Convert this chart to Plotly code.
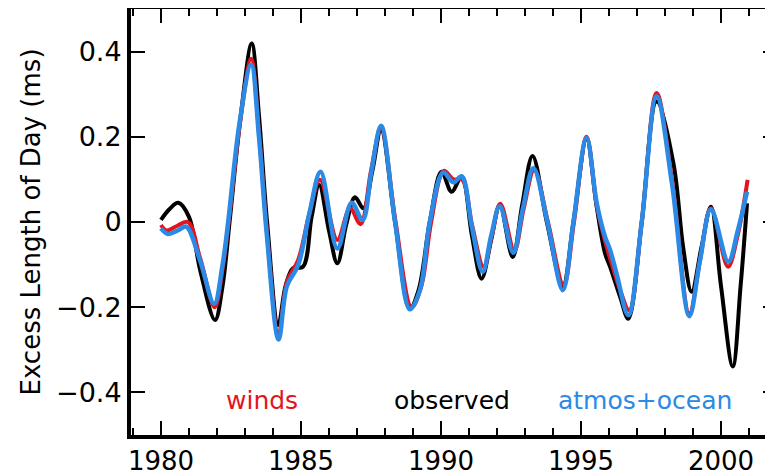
import plotly.graph_objects as go

# ---- data ----
obs_year = [1980.00, 1980.30, 1980.62, 1981.00, 1981.40, 1981.93, 1982.20, 1982.45, 1982.85,
            1983.24, 1983.50, 1983.79, 1984.19, 1984.45, 1984.72, 1985.07, 1985.38, 1985.65,
            1986.00, 1986.30, 1986.62, 1986.93, 1987.23, 1987.55, 1987.86, 1988.36, 1988.89,
            1989.20, 1989.60, 1990.02, 1990.38, 1990.74, 1991.10, 1991.45, 1991.80, 1992.10,
            1992.56, 1992.90, 1993.27, 1993.78, 1994.35, 1994.73, 1995.20, 1995.56, 1995.86,
            1996.04, 1996.40, 1996.69, 1997.17, 1997.70, 1998.30, 1998.65, 1998.95, 1999.30,
            1999.64, 2000.00, 2000.42, 2000.70, 2000.93]
obs_val = [0.005, 0.030, 0.045, 0.012, -0.113, -0.230, -0.150, 0.000, 0.250,
           0.419, 0.250, 0.000, -0.242, -0.150, -0.108, -0.105, 0.012, 0.087,
           -0.020, -0.097, -0.005, 0.058, 0.032, 0.120, 0.216, 0.000, -0.203,
           -0.160, 0.000, 0.118, 0.071, 0.107, -0.030, -0.133, -0.040, 0.040,
           -0.082, 0.040, 0.155, 0.000, -0.150, 0.000, 0.195, 0.036, -0.074,
           -0.105, -0.176, -0.227, 0.000, 0.283, 0.138, -0.060, -0.164, -0.060,
           0.036, -0.150, -0.339, -0.150, 0.044]

winds_year = [1980.00, 1980.20, 1980.55, 1980.96, 1981.40, 1981.92, 1982.20, 1982.42, 1982.82,
              1983.22, 1983.50, 1983.78, 1984.20, 1984.50, 1984.90, 1985.30, 1985.68,
              1986.30, 1986.75, 1987.13, 1987.50, 1987.86, 1988.38, 1988.95, 1989.30,
              1989.65, 1990.10, 1990.45, 1990.75, 1991.12, 1991.52, 1991.82, 1992.12,
              1992.62, 1992.95, 1993.33, 1993.82, 1994.38, 1994.75, 1995.20, 1995.56,
              1995.88, 1996.06, 1996.40, 1996.72, 1997.17, 1997.70, 1998.25, 1998.87,
              1999.25, 1999.64, 2000.25, 2000.60, 2000.95]
winds_val = [-0.007, -0.020, -0.010, 0.000, -0.085, -0.200, -0.110, 0.000, 0.230,
             0.383, 0.210, -0.020, -0.266, -0.140, -0.089, 0.020, 0.099,
             -0.042, 0.032, -0.005, 0.120, 0.220, 0.000, -0.200, -0.150,
             0.000, 0.120, 0.100, 0.100, -0.010, -0.105, -0.030, 0.043,
             -0.067, 0.030, 0.122, 0.000, -0.148, 0.000, 0.200, 0.040,
             -0.050, -0.090, -0.160, -0.207, 0.000, 0.303, 0.100, -0.215,
             -0.090, 0.032, -0.105, -0.030, 0.099]

atmoc_year = [1980.00, 1980.25, 1980.60, 1980.90, 1981.39, 1981.90, 1982.20, 1982.40, 1982.80,
              1983.22, 1983.50, 1983.78, 1984.20, 1984.50, 1984.90, 1985.30, 1985.70,
              1986.30, 1986.81, 1987.20, 1987.52, 1987.86, 1988.36, 1988.89, 1989.25,
              1989.60, 1990.08, 1990.44, 1990.74, 1991.10, 1991.49, 1991.80, 1992.10,
              1992.58, 1992.92, 1993.30, 1993.80, 1994.35, 1994.73, 1995.20, 1995.56,
              1995.86, 1996.04, 1996.27, 1996.69, 1997.17, 1997.70, 1998.25, 1998.87,
              1999.25, 1999.64, 2000.26, 2000.60, 2000.93]
atmoc_val = [-0.015, -0.028, -0.020, -0.011, -0.089, -0.192, -0.100, 0.000, 0.230,
             0.369, 0.200, -0.030, -0.276, -0.150, -0.101, 0.020, 0.118,
             -0.062, 0.045, 0.005, 0.120, 0.226, 0.000, -0.205, -0.160,
             0.000, 0.116, 0.093, 0.107, -0.010, -0.117, -0.030, 0.037,
             -0.072, 0.030, 0.126, 0.000, -0.160, 0.000, 0.198, 0.045,
             -0.035, -0.066, -0.121, -0.219, 0.000, 0.295, 0.090, -0.221,
             -0.090, 0.030, -0.093, -0.020, 0.071]

series_names = ["observed", "winds", "atmos+ocean"]
series_colors = ["#000000", "#e4141c", "#2a8ae6"]

x_tickvals = [1980, 1985, 1990, 1995, 2000]
x_ticktext = ["1980", "1985", "1990", "1995", "2000"]
y_tickvals = [-0.4, -0.2, 0, 0.2, 0.4]
y_ticktext = ["\u22120.4", "\u22120.2", "0", "0.2", "0.4"]

label_x = [1983.6, 1990.4, 1997.3]
label_y = -0.42

FONT = "DejaVu Sans"

fig = go.Figure()
for xs, ys, name, col, w in [(obs_year, obs_val, series_names[0], series_colors[0], 4),
                             (winds_year, winds_val, series_names[1], series_colors[1], 4),
                             (atmoc_year, atmoc_val, series_names[2], series_colors[2], 4.5)]:
    fig.add_trace(go.Scatter(x=xs, y=ys, mode="lines", name=name,
                             line=dict(color=col, width=w, shape="spline", smoothing=1.0),
                             showlegend=False))

for txt, lx, col in zip(["winds", "observed", "atmos+ocean"], label_x,
                        [series_colors[1], series_colors[0], series_colors[2]]):
    fig.add_annotation(x=lx, y=label_y, text=txt, showarrow=False,
                       font=dict(family=FONT, size=25, color=col),
                       xanchor="center", yanchor="middle")

fig.update_xaxes(range=[1978.93, 2002.0], tickvals=x_tickvals, ticktext=x_ticktext,
                 ticks="inside", ticklen=14, tickwidth=2, tickcolor="black",
                 minor=dict(dtick=1, tick0=1980, ticks="inside", ticklen=7, tickwidth=2,
                            tickcolor="black", showgrid=False),
                 showline=True, linewidth=4, linecolor="black", mirror="ticks",
                 showgrid=False, zeroline=False,
                 tickfont=dict(family=FONT, size=26, color="black"))
fig.update_yaxes(range=[-0.5, 0.5], tickvals=y_tickvals, ticktext=y_ticktext,
                 ticks="inside", ticklen=14, tickwidth=2, tickcolor="black",
                 showline=True, linewidth=4, linecolor="black", mirror="ticks",
                 showgrid=False, zeroline=False,
                 tickfont=dict(family=FONT, size=27, color="black"),
                 title=dict(text="Excess Length of Day (ms)", standoff=9,
                            font=dict(family=FONT, size=26, color="black")))

# the page adds an 8 px body margin, so the figure is laid out 8 px up/left
fig.update_layout(width=773, height=476, paper_bgcolor="white", plot_bgcolor="white",
                  margin=dict(l=123, r=4, t=1, b=49, autoexpand=False))

fig.write_html("out.html")
